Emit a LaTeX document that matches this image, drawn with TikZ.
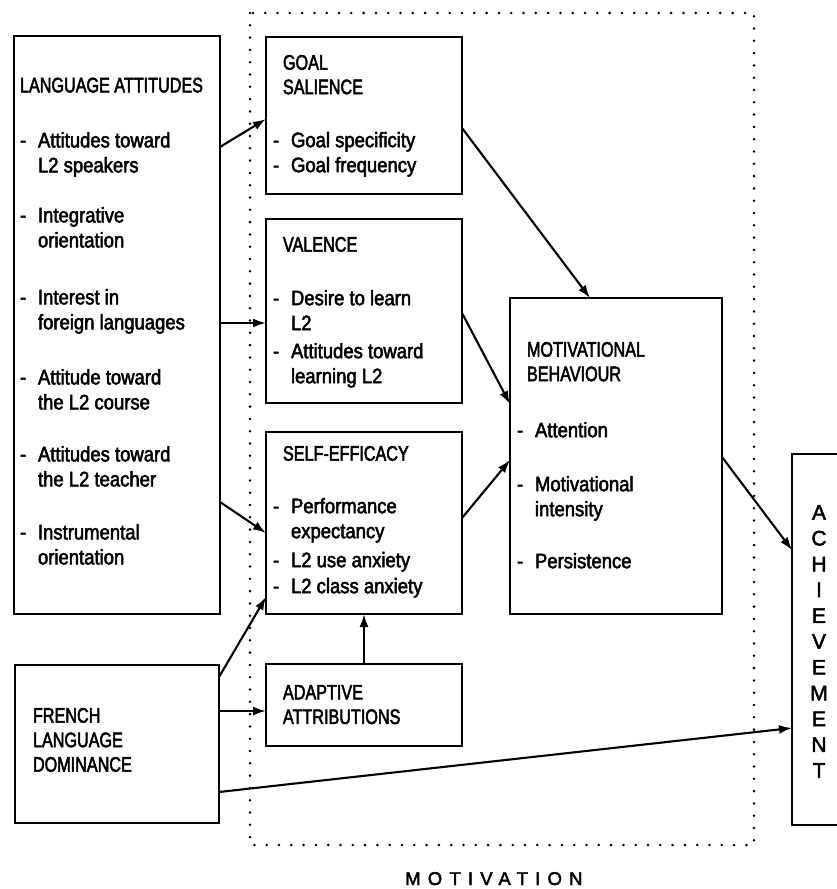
\documentclass[tikz,border=0pt]{standalone}
\usepackage{fontspec}
\setmainfont[FakeBold=2.4]{Liberation Sans}
\newfontfamily\capsf[FakeStretch=0.77,FakeBold=2.4]{Liberation Sans}
\newfontfamily\itemf[FakeStretch=0.88,FakeBold=2.4]{Liberation Sans}
\newfontfamily\motf[LetterSpace=39,FakeBold=2.4]{Liberation Sans}
\usetikzlibrary{arrows.meta}
\newcommand\Dd{\makebox[18pt][l]{-}}
\newcommand\Ii{\hspace*{18pt}}
\begin{document}
\begin{tikzpicture}[x=1pt,y=-1pt,
  box/.style={draw, line width=2.2pt, inner sep=0pt, outer sep=0pt, anchor=north west},
  txt/.style={anchor=north west, inner sep=0pt, outer sep=0pt, align=left, font=\itemf\fontsize{21}{25}\selectfont},
  ttl/.style={txt, font=\capsf\fontsize{21}{24.5}\selectfont},
  arr/.style={line width=2.1pt, -{Latex[length=13pt,width=9pt]}},
  dotline/.style={line width=2.8pt, dash pattern=on 0pt off 12.3pt, line cap=round}]
\useasboundingbox (0,0) rectangle (837,889);
\fill[white] (0,0) rectangle (837,889);

% motivation frame
\draw[dotline] (250,13) rectangle (754,845);
\node[anchor=base west, inner sep=0pt, font=\motf\fontsize{18.5}{20}\selectfont] (motlabel) at (405,885) {MOTIVATION};

% boxes
\node[box, minimum width=206pt, minimum height=578pt] (LA) at (14,36) {};
\node[box, minimum width=196pt, minimum height=157pt] (GS) at (266,37) {};
\node[box, minimum width=196pt, minimum height=184pt] (VA) at (266,219) {};
\node[box, minimum width=196pt, minimum height=182pt] (SE) at (266,432) {};
\node[box, minimum width=196pt, minimum height=82pt] (AA) at (266,664) {};
\node[box, minimum width=204pt, minimum height=158pt] (FLD) at (15,665) {};
\node[box, minimum width=212pt, minimum height=316pt] (MB) at (510,298) {};
\node[box, minimum width=70pt, minimum height=371pt] (ACH) at (792,454) {};

% texts
\node[txt] (LAt) at (20,77.7) {{\capsf LANGUAGE ATTITUDES}\\[30pt]
  \Dd Attitudes toward\\\Ii L2 speakers\\[25pt]
  \Dd Integrative\\\Ii orientation\\[32pt]
  \Dd Interest in\\\Ii foreign languages\\[30pt]
  \Dd Attitude toward\\\Ii the L2 course\\[27pt]
  \Dd Attitudes toward\\\Ii the L2 teacher\\[28pt]
  \Dd Instrumental\\\Ii orientation};

\node[ttl] (GSt) at (283,55) {GOAL\\SALIENCE};
\node[txt] (GSi) at (273,132) {\Dd Goal specificity\\\Dd Goal frequency};

\node[ttl] (VAt) at (283,237) {VALENCE};
\node[txt] (VAi) at (273,290) {\Dd Desire to learn\\\Ii L2\\[3pt]\Dd Attitudes toward\\\Ii learning L2};

\node[ttl] (SEt) at (283,446) {SELF-EFFICACY};
\node[txt] (SEi) at (273,498) {\Dd Performance\\\Ii expectancy\\[4pt]\Dd L2 use anxiety\\[1pt]\Dd L2 class anxiety};

\node[ttl] (AAt) at (283,685) {ADAPTIVE\\ATTRIBUTIONS};
\node[ttl] (FLDt) at (33,708) {FRENCH\\LANGUAGE\\DOMINANCE};

\node[ttl] (MBt) at (527,342) {MOTIVATIONAL\\BEHAVIOUR};
\node[txt] (MBi) at (517,422) {\Dd Attention\\[29pt]\Dd Motivational\\\Ii intensity\\[27pt]\Dd Persistence};

\node[anchor=north, inner sep=0pt, align=center, font=\fontsize{21}{25.8}\selectfont] (ACHt) at (819,505)
  {A\\C\\H\\I\\E\\V\\E\\M\\E\\N\\T};

% connectors
\draw[arr] (LA.east |- 0,147) -- (GS.west |- 0,119);
\draw[arr] (LA.east |- 0,323) -- (VA.west |- 0,323);
\draw[arr] (LA.east |- 0,502) -- (SE.west |- 0,533);
\draw[arr] (FLD.east |- 0,677) -- (SE.west |- 0,597);
\draw[arr] (FLD.east |- 0,711) -- (AA.west |- 0,711);
\draw[arr] (AA.north) -- (SE.south);
\draw[arr] (GS.east |- 0,128) -- (590,0 |- MB.north);
\draw[arr] (VA.east |- 0,313) -- (MB.west |- 0,404);
\draw[arr] (SE.east |- 0,518) -- (MB.west |- 0,460);
\draw[arr] (MB.east |- 0,457) -- (ACH.west |- 0,550);
\draw[arr] (FLD.east |- 0,792) -- (ACH.west |- 0,728);
\end{tikzpicture}
\end{document}
